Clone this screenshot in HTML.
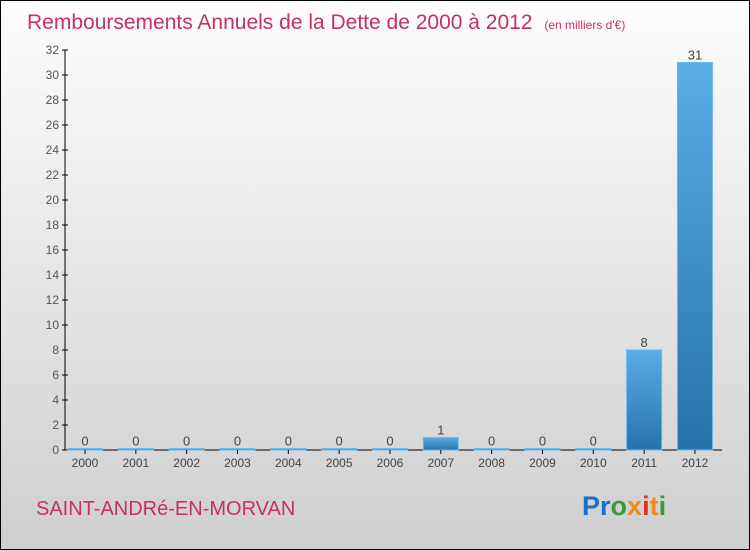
<!DOCTYPE html>
<html><head><meta charset="utf-8"><style>
body{margin:0}
#c{width:748px;height:548px;border:1px solid #000;background:linear-gradient(#fdfdfd,#cfcfcf);position:relative;font-family:"Liberation Sans",sans-serif;overflow:hidden}
</style></head><body>
<div id="c">
<svg id="s" width="748" height="548">
<defs><linearGradient id="g" x1="0" y1="0" x2="0" y2="1"><stop offset="0" stop-color="#5aade6"/><stop offset="1" stop-color="#2672ac"/></linearGradient></defs>
<text x="26" y="28" font-size="21" fill="#c8305e">Remboursements Annuels de la Dette de 2000 à 2012 <tspan font-size="12" dx="6">(en milliers d'€)</tspan></text>
<text x="35" y="514" font-size="20" fill="#c8305e">SAINT-ANDRé-EN-MORVAN</text>
<text x="581" y="514" font-size="27" font-weight="bold"><tspan fill="#1a6fc6">Pr</tspan><tspan fill="#3a9a3a">o</tspan><tspan fill="#f08a1a">x</tspan><tspan fill="#e03020">i</tspan><tspan fill="#f08a1a">t</tspan><tspan fill="#3a9a3a">i</tspan></text>
</svg></div>
<script>
const years=["2000","2001","2002","2003","2004","2005","2006","2007","2008","2009","2010","2011","2012"];
const values=[0,0,0,0,0,0,0,1,0,0,0,8,31];
const yTicks=[0,2,4,6,8,10,12,14,16,18,20,22,24,26,28,30,32];
const svg=document.getElementById('s');const NS='http://www.w3.org/2000/svg';
const y=v=>449-v*12.5, x=i=>84+i*50.83;
function mk(t,a){const e=document.createElementNS(NS,t);for(const k in a)e.setAttribute(k,a[k]);svg.appendChild(e);return e;}
let ax=mk('line',{x1:64,y1:49,x2:64,y2:449,stroke:'#000'});


let xa=mk('line',{x1:64,y1:449,x2:721,y2:449,stroke:'#000'});


yTicks.forEach(v=>{
 let t=mk('line',{x1:61,y1:y(v),x2:67,y2:y(v),stroke:'#000'});
 
 
 let l=mk('text',{x:58,y:y(v)+4,'font-size':12,fill:'#555','text-anchor':'end'});l.textContent=v;
 
 
});
years.forEach((yr,i)=>{
 const v=values[i];const h=Math.max(v*12.5,1.5);
 let b=mk('rect',{x:x(i)-17.5,y:449-h,width:35,height:h,fill:'url(#g)',stroke:'#6bb8ee','stroke-width':1});
 
 
 let tk=mk('line',{x1:x(i),y1:449,x2:x(i),y2:453,stroke:'#000'});
 
 
 let l=mk('text',{x:x(i),y:466,'font-size':12,fill:'#444','text-anchor':'middle'});l.textContent=yr;
 
 
 let vl=mk('text',{x:x(i),y:449-h-3,'font-size':13,fill:'#444','text-anchor':'middle'});vl.textContent=v;
 
 
});
</script>
</body></html>
